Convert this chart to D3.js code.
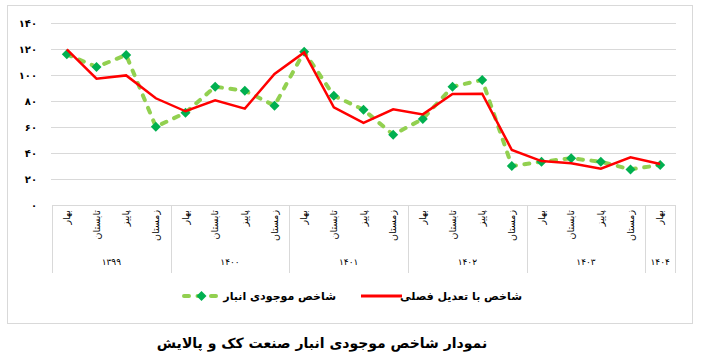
<!DOCTYPE html>
<html>
<head>
<meta charset="utf-8">
<script src="https://cdn.jsdelivr.net/npm/d3@7/dist/d3.min.js"></script>
<style>
  html, body { margin: 0; padding: 0; background: #ffffff; }
  svg { display: block; font-family: "DejaVu Sans", "Noto Sans", sans-serif; }
</style>
</head>
<body>
<svg id="chart" width="709" height="359"></svg>
<script>
// ---- data ----
const seasons = ["بهار", "تابستان", "پاییز", "زمستان"];
const years = ["۱۳۹۹", "۱۴۰۰", "۱۴۰۱", "۱۴۰۲", "۱۴۰۳", "۱۴۰۴"];
const yearCounts = [4, 4, 4, 4, 4, 1];
const inventoryIndex = [115.9, 106.2, 115.4, 60.2, 71.0, 91.0, 87.9, 76.4, 117.9, 84.1, 73.3, 54.1, 66.2, 91.0, 96.2, 30.0, 33.3, 35.9, 33.3, 27.4, 30.8];
const seasonallyAdjusted = [119.7, 97.2, 99.7, 82.1, 72.1, 80.5, 74.1, 100.8, 117.4, 75.1, 63.1, 73.6, 69.7, 85.4, 85.6, 42.3, 33.8, 32.1, 27.9, 36.7, 31.5];
const yTicks = [0, 20, 40, 60, 80, 100, 120, 140];
const yTickLabels = ["۰", "۲۰", "۴۰", "۶۰", "۸۰", "۱۰۰", "۱۲۰", "۱۴۰"];
const seriesNames = ["شاخص با تعدیل فصلی", "شاخص موجودی انبار"];
const chartTitle = "نمودار شاخص موجودی انبار صنعت کک و پالایش";

(function () {
  const categories = [];
  years.forEach((yr, yi) => {
    for (let s = 0; s < yearCounts[yi]; s++) categories.push({ year: yr, season: seasons[s], yi: yi });
  });
  const idx = categories.map((d, i) => i);

  const svg = d3.select("#chart");
  const pLeft = 52, pRight = 675, pTop = 23, pBottom = 205;
  const x = d3.scaleBand().domain(idx).range([pLeft, pRight]).paddingInner(0).paddingOuter(0);
  const y = d3.scaleLinear().domain([0, 140]).range([pBottom, pTop]);
  const cx = i => x(i) + x.bandwidth() / 2;

  const GRID = "#D9D9D9";

  // outer border
  svg.append("rect").attr("x", 7.5).attr("y", 5.5).attr("width", 685).attr("height", 318)
    .attr("fill", "none").attr("stroke", GRID).attr("stroke-width", 1);

  // gridlines
  svg.append("g").selectAll("line").data(yTicks.filter(t => t > 0)).join("line")
    .attr("x1", pLeft - 1).attr("x2", pRight + 1)
    .attr("y1", d => Math.round(y(d)) + 0.5).attr("y2", d => Math.round(y(d)) + 0.5)
    .attr("stroke", GRID).attr("stroke-width", 1);

  // category axis line
  svg.append("line").attr("x1", pLeft).attr("x2", pRight)
    .attr("y1", Math.round(y(0)) + 0.5).attr("y2", Math.round(y(0)) + 0.5)
    .attr("stroke", GRID).attr("stroke-width", 1);

  // y tick labels
  svg.append("g").selectAll("text").data(yTicks).join("text")
    .attr("x", 37).attr("y", d => y(d)).attr("dy", "0.35em")
    .attr("text-anchor", "end").attr("font-size", 10).attr("font-weight", "bold")
    .attr("fill", "#000").text((d, i) => yTickLabels[i]);

  // year separators
  const bounds = [0];
  yearCounts.forEach((c, i) => bounds.push(bounds[i] + c));
  const bx = b => Math.round(b < idx.length ? x(b) : x(idx.length - 1) + x.bandwidth()) + 0.5;
  svg.append("g").selectAll("line").data(bounds).join("line")
    .attr("x1", bx).attr("x2", bx)
    .attr("y1", pBottom).attr("y2", 273)
    .attr("stroke", GRID).attr("stroke-width", 1);

  // season labels (rotated)
  svg.append("g").selectAll("text").data(categories).join("text")
    .attr("transform", (d, i) => `translate(${cx(i)},210) rotate(-90)`)
    .attr("text-anchor", "end").attr("dy", "0.35em")
    .attr("font-size", 9.5).attr("fill", "#000")
    .text(d => d.season);

  // year labels
  svg.append("g").selectAll("text").data(years).join("text")
    .attr("x", (d, i) => (x(bounds[i]) + x(bounds[i + 1] - 1) + x.bandwidth()) / 2)
    .attr("y", 262).attr("dy", "0.35em")
    .attr("text-anchor", "middle").attr("font-size", 9).attr("fill", "#000")
    .text(d => d);

  // series
  const line = d3.line().x((d, i) => cx(i)).y(d => y(d));

  svg.append("path").datum(inventoryIndex).attr("d", line)
    .attr("fill", "none").attr("stroke", "#92D050").attr("stroke-width", 4)
    .attr("stroke-linecap", "round").attr("stroke-linejoin", "round")
    .attr("stroke-dasharray", "5,8.5");

  const sq = d3.symbol().type(d3.symbolSquare).size(50)();
  svg.append("g").selectAll("path").data(inventoryIndex).join("path")
    .attr("d", sq)
    .attr("transform", (d, i) => `translate(${cx(i)},${y(d)}) rotate(45)`)
    .attr("fill", "#00B050");

  svg.append("path").datum(seasonallyAdjusted).attr("d", line)
    .attr("fill", "none").attr("stroke", "#FF0000").attr("stroke-width", 2.5)
    .attr("stroke-linejoin", "miter");

  // legend
  const lg = svg.append("g");
  lg.append("line").attr("x1", 361).attr("x2", 402).attr("y1", 296).attr("y2", 296)
    .attr("stroke", "#FF0000").attr("stroke-width", 3);
  lg.append("text").attr("x", 522).attr("y", 296).attr("dy", "0.35em")
    .attr("text-anchor", "end").attr("font-size", 11).attr("font-weight", "bold")
    .text(seriesNames[0]);
  lg.append("line").attr("x1", 184).attr("x2", 219).attr("y1", 296).attr("y2", 296)
    .attr("stroke", "#92D050").attr("stroke-width", 4)
    .attr("stroke-linecap", "round").attr("stroke-dasharray", "5,8.5");
  lg.append("path").attr("d", sq)
    .attr("transform", "translate(201.5,296) rotate(45)").attr("fill", "#00B050");
  lg.append("text").attr("x", 336).attr("y", 296).attr("dy", "0.35em")
    .attr("text-anchor", "end").attr("font-size", 11).attr("font-weight", "bold")
    .text(seriesNames[1]);

  // title
  svg.append("text").attr("x", 322).attr("y", 343).attr("dy", "0.35em")
    .attr("text-anchor", "middle").attr("font-size", 14).attr("font-weight", "bold")
    .text(chartTitle);
})();
</script>
</body>
</html>
